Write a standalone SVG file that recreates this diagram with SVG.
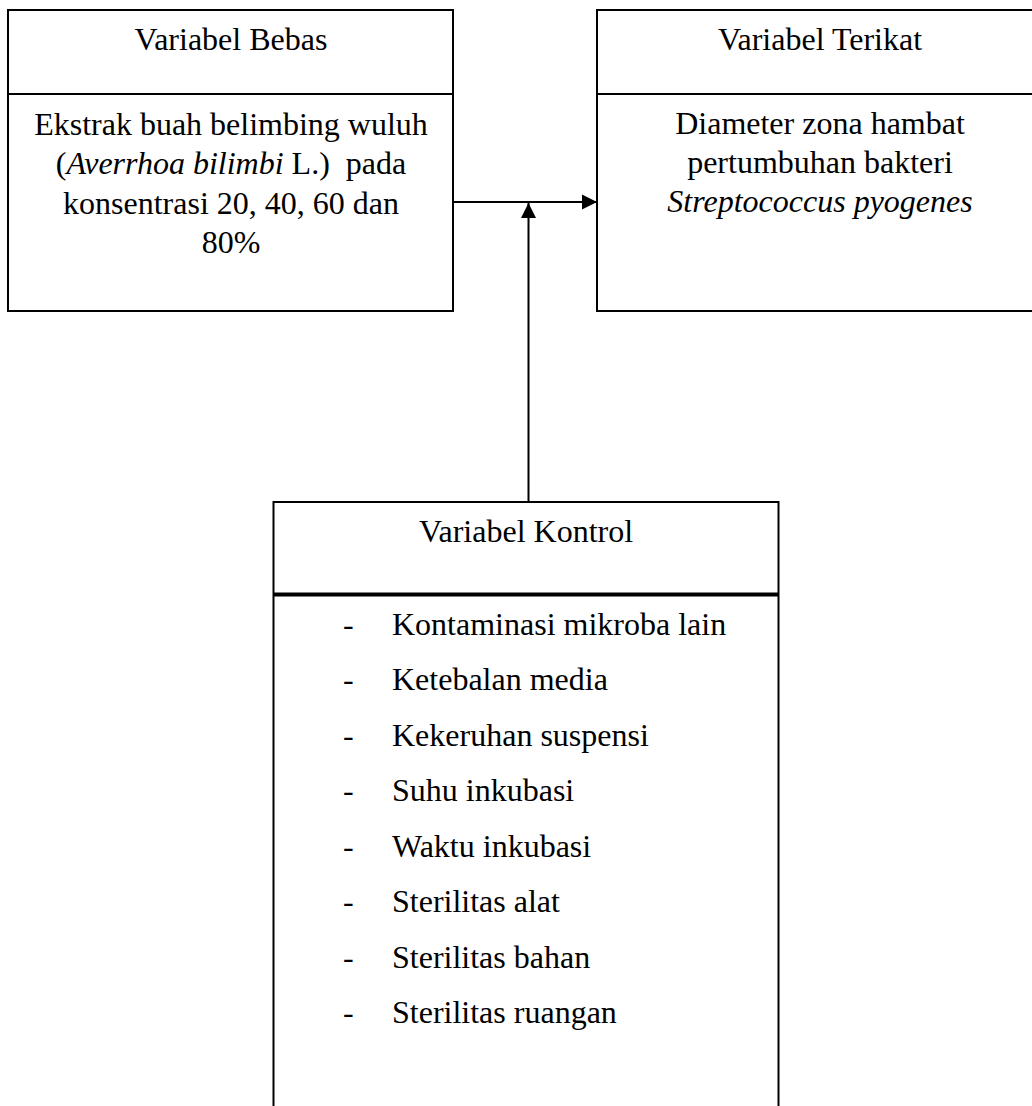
<svg xmlns="http://www.w3.org/2000/svg" width="1032" height="1106" viewBox="0 0 1032 1106">
<style>
.box{fill:#fff;stroke:#000;stroke-width:2}
.div{stroke:#000;stroke-width:2}
.thick{stroke:#000;stroke-width:4}
.t{font-family:"Liberation Serif","Times New Roman",serif;font-size:32px;fill:#000}
.c{text-anchor:middle}
.i{font-style:italic}
.con{stroke:#000;stroke-width:2;fill:none}
</style>
<defs>
<marker id="ah" markerWidth="16" markerHeight="16" refX="15" refY="8" orient="auto" markerUnits="userSpaceOnUse">
<path d="M0,0.5 L15,8 L0,15.5 Z" fill="#000"/>
</marker>
</defs>
<rect width="1032" height="1106" fill="#fff"/>
<g id="connectors">
<line class="con" x1="453" y1="202" x2="597" y2="202" marker-end="url(#ah)"/>
<line class="con" x1="528.5" y1="502" x2="528.5" y2="203" marker-end="url(#ah)"/>
</g>
<g id="variabel-bebas">
<rect class="box" x="8" y="10" width="445" height="301"/>
<line class="div" x1="8" y1="94" x2="453" y2="94"/>
<text class="t c" x="231" y="50">Variabel Bebas</text>
<text class="t c" x="231" y="135">Ekstrak buah belimbing wuluh</text>
<text class="t c" x="231" y="174" xml:space="preserve">(<tspan class="i">Averrhoa bilimbi</tspan> L.)  pada</text>
<text class="t c" x="231" y="214">konsentrasi 20, 40, 60 dan</text>
<text class="t c" x="231" y="253">80%</text>
</g>
<g id="variabel-terikat">
<rect class="box" x="597" y="10" width="450" height="301"/>
<line class="div" x1="597" y1="94" x2="1047" y2="94"/>
<text class="t c" x="820" y="50">Variabel Terikat</text>
<text class="t c" x="820" y="134">Diameter zona hambat</text>
<text class="t c" x="820" y="173">pertumbuhan bakteri</text>
<text class="t c i" x="820" y="212">Streptococcus pyogenes</text>
</g>
<g id="variabel-kontrol">
<rect class="box" x="273.5" y="502" width="505" height="620"/>
<line class="thick" x1="273.5" y1="594.5" x2="778.5" y2="594.5"/>
<text class="t c" x="526" y="542">Variabel Kontrol</text>
<g class="t">
<text x="343" y="635">-</text><text x="392" y="635">Kontaminasi mikroba lain</text>
<text x="343" y="690">-</text><text x="392" y="690">Ketebalan media</text>
<text x="343" y="746">-</text><text x="392" y="746">Kekeruhan suspensi</text>
<text x="343" y="801">-</text><text x="392" y="801">Suhu inkubasi</text>
<text x="343" y="857">-</text><text x="392" y="857">Waktu inkubasi</text>
<text x="343" y="912">-</text><text x="392" y="912">Sterilitas alat</text>
<text x="343" y="968">-</text><text x="392" y="968">Sterilitas bahan</text>
<text x="343" y="1023">-</text><text x="392" y="1023">Sterilitas ruangan</text>
</g>
</g>
</svg>
